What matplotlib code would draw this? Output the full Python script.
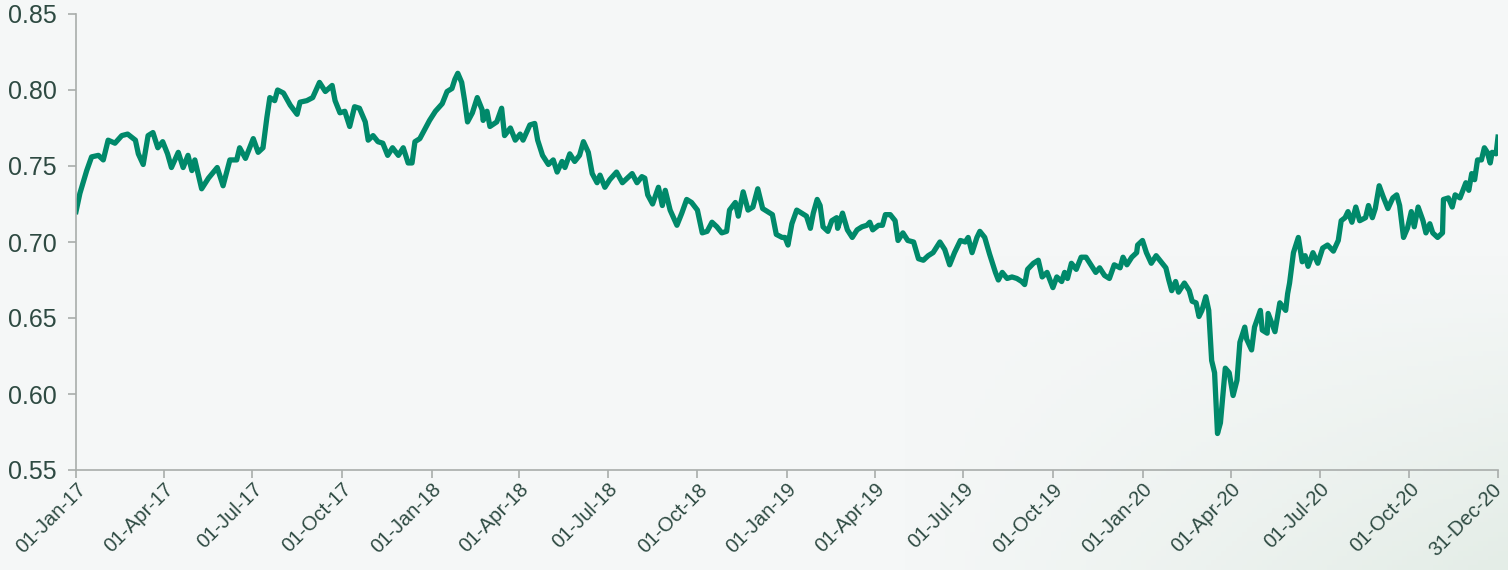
import numpy as np
import pandas as pd
import matplotlib
matplotlib.use("Agg")
import matplotlib.pyplot as plt
import matplotlib.dates as mdates
import matplotlib.transforms as mtransforms

# AUD/USD style series (days since 01-Jan-2017, rate)
start = pd.Timestamp("2017-01-01")

days = [
    0, 4, 11, 16, 23, 28, 33, 40, 47, 53, 61, 64, 69, 74, 79, 84, 89, 94, 98, 105,
    110, 115, 119, 122, 129, 136, 145, 151, 158, 165, 168, 174, 182, 187, 192, 196,
    199, 204, 207, 213, 220, 227, 230, 237, 243, 250, 256, 263, 266, 271, 276, 281,
    286, 291, 297, 300, 305, 310, 315, 320, 325, 331, 336, 341, 345, 348, 353, 358, 363,
    369, 376, 381, 386, 389, 392, 396, 399, 402, 407, 412, 417, 418, 422, 425, 432,
    437, 440, 446, 451, 456, 459, 466, 471, 474, 479, 485, 490, 494, 499, 502, 507,
    512, 517, 521, 526, 530, 535, 538, 543, 548, 555, 561, 566, 571, 576, 581, 584,
    587, 592, 598, 602, 605, 610, 617, 622, 627, 632, 638, 643, 648, 653, 658, 663,
    668, 671, 677, 680, 685, 690, 695, 700, 705, 710, 715, 719, 725,
    728, 731, 735, 740, 745, 750, 754, 757, 761, 764, 767, 772, 776, 781, 782, 787,
    792, 797, 802, 807, 812, 815, 818, 824, 828, 831, 836, 841, 844, 849, 854, 860,
    865, 870, 875, 880, 887, 892, 897, 902, 908, 913, 916, 920, 925, 928, 933, 938,
    944, 947, 951, 956, 961, 966, 971, 974, 977, 983, 988, 992, 997, 1000, 1003, 1007,
    1012, 1015, 1018, 1022, 1027, 1032, 1037, 1042, 1047, 1051, 1056, 1061, 1066,
    1072, 1075, 1079, 1084, 1089, 1090, 1095,
    1099, 1104, 1109, 1114, 1119, 1122, 1125, 1129, 1132, 1138, 1143, 1146, 1150,
    1153, 1156, 1160, 1163, 1166, 1169, 1172, 1175, 1180, 1184, 1188, 1192, 1195,
    1200, 1202, 1207, 1210, 1216, 1218, 1223, 1224, 1231, 1236, 1242, 1244, 1246,
    1250, 1255, 1259, 1262, 1265, 1270, 1275, 1280, 1285, 1291, 1296, 1299, 1303,
    1306, 1310, 1314, 1318, 1324, 1327, 1331, 1334, 1338, 1342, 1347, 1352, 1356,
    1359, 1363, 1367, 1371, 1374, 1378, 1383, 1386, 1390, 1393, 1398, 1403, 1404,
    1409, 1413, 1416, 1421, 1424, 1427, 1430, 1433, 1436, 1439, 1443, 1446, 1449,
    1452, 1454, 1458, 1460,
]

rate = [
    0.720, 0.732, 0.747, 0.756, 0.757, 0.754, 0.767, 0.765, 0.770, 0.771, 0.767, 0.758,
    0.751, 0.770, 0.772, 0.762, 0.766, 0.758, 0.749, 0.759, 0.749, 0.757, 0.747, 0.754,
    0.735, 0.742, 0.749, 0.737, 0.754, 0.754, 0.762, 0.755, 0.768, 0.759, 0.762, 0.782,
    0.795, 0.793, 0.800, 0.798, 0.790, 0.784, 0.792, 0.793, 0.795, 0.805, 0.799, 0.803,
    0.793, 0.785, 0.786, 0.776, 0.789, 0.788, 0.779, 0.767, 0.770, 0.766, 0.765, 0.757,
    0.762, 0.757, 0.762, 0.752, 0.752, 0.766, 0.768, 0.774, 0.780,
    0.786, 0.791, 0.799, 0.801, 0.807, 0.811, 0.805, 0.793, 0.779, 0.785, 0.795, 0.787,
    0.780, 0.786, 0.776, 0.779, 0.788, 0.770, 0.775, 0.767, 0.771, 0.767, 0.777, 0.778,
    0.767, 0.757, 0.751, 0.754, 0.746, 0.753, 0.749, 0.758, 0.753, 0.757, 0.766, 0.759,
    0.745, 0.739, 0.744, 0.736, 0.741, 0.746, 0.739, 0.742, 0.745, 0.739, 0.743, 0.742,
    0.731, 0.725, 0.736, 0.724, 0.734, 0.721, 0.711, 0.719, 0.728, 0.726, 0.721, 0.706,
    0.707, 0.713, 0.710, 0.706, 0.707, 0.721, 0.726, 0.717, 0.733, 0.721, 0.723, 0.735,
    0.722, 0.720, 0.718, 0.705, 0.703,
    0.703, 0.698, 0.712, 0.721, 0.719, 0.717, 0.709, 0.719, 0.728, 0.724, 0.710, 0.707,
    0.714, 0.716, 0.709, 0.719, 0.708, 0.703, 0.708, 0.710, 0.711, 0.713, 0.708, 0.711,
    0.711, 0.718, 0.718, 0.714, 0.701, 0.706, 0.701, 0.700, 0.689, 0.688, 0.691, 0.693,
    0.700, 0.695, 0.685, 0.693, 0.701, 0.700, 0.703, 0.693, 0.703, 0.707, 0.703, 0.692,
    0.680, 0.675, 0.680, 0.676, 0.677, 0.676, 0.674, 0.672, 0.682, 0.686, 0.688, 0.677,
    0.680, 0.675, 0.670, 0.677, 0.674, 0.680, 0.676, 0.686, 0.682, 0.690, 0.690, 0.685,
    0.680, 0.683, 0.678, 0.676, 0.685, 0.683, 0.690, 0.685, 0.690, 0.693, 0.698, 0.701,
    0.693, 0.686, 0.691, 0.687, 0.683, 0.675, 0.668, 0.674, 0.667, 0.673, 0.668, 0.661,
    0.660, 0.651, 0.655, 0.664, 0.655, 0.622, 0.614, 0.574, 0.581, 0.617, 0.614, 0.599,
    0.609, 0.634, 0.644, 0.636, 0.629, 0.644, 0.655, 0.642, 0.640, 0.653, 0.641, 0.660,
    0.655, 0.666, 0.673, 0.693, 0.703, 0.687, 0.691, 0.684, 0.693, 0.686, 0.696, 0.698,
    0.694, 0.701, 0.714, 0.716, 0.720, 0.713, 0.723, 0.714, 0.716, 0.724, 0.716, 0.722,
    0.737, 0.730, 0.722, 0.729, 0.731, 0.724, 0.703, 0.709, 0.720, 0.710, 0.723, 0.714,
    0.706, 0.712, 0.706, 0.703, 0.706, 0.728, 0.729, 0.723, 0.731, 0.729, 0.734, 0.739,
    0.734, 0.745, 0.741, 0.754, 0.754, 0.762, 0.759, 0.752, 0.759, 0.758, 0.769,
]

tick_dates = [
    "2017-01-01", "2017-04-01", "2017-07-01", "2017-10-01",
    "2018-01-01", "2018-04-01", "2018-07-01", "2018-10-01",
    "2019-01-01", "2019-04-01", "2019-07-01", "2019-10-01",
    "2020-01-01", "2020-04-01", "2020-07-01", "2020-10-01", "2020-12-31",
]
y_ticks = [0.55, 0.60, 0.65, 0.70, 0.75, 0.80, 0.85]

dates = start + pd.to_timedelta(days, unit="D")

plt.rcParams["font.family"] = ["Liberation Sans", "DejaVu Sans"]
text_col = "#2e4a42"
line_col = "#00896a"
bg_col = "#f5f7f7"

fig = plt.figure(figsize=(15.08, 5.70), dpi=100)
fig.patch.set_facecolor(bg_col)

# faint green wash toward the bottom right corner
bg = fig.add_axes([0, 0, 1, 1], zorder=-5)
gx, gy = np.meshgrid(np.linspace(0, 1, 300), np.linspace(0, 1, 120))
wash = np.clip((gx - 0.6) / 0.4, 0, 1) * np.clip((gy - 0.45) / 0.55, 0, 1)
rgb = np.array([245, 247, 247]) / 255.0
green = np.array([228, 237, 231]) / 255.0
img = rgb + (green - rgb) * wash[..., None]
bg.imshow(img, aspect="auto", extent=[0, 1, 0, 1], origin="upper")
bg.set_axis_off()

ax = fig.add_axes([76 / 1508, 1 - 470 / 570, 1422 / 1508, 456 / 570])
ax.set_facecolor("none")
ax.plot(dates, rate, color=line_col, linewidth=3.8, solid_joinstyle="round")

ax.set_xlim(pd.Timestamp(tick_dates[0]), pd.Timestamp(tick_dates[-1]))
ax.set_ylim(0.55, 0.85)
ax.set_yticks(y_ticks)
ax.set_yticklabels([f"{v:.2f}" for v in y_ticks])
ax.set_xticks(pd.to_datetime(tick_dates))
ax.xaxis.set_major_formatter(mdates.DateFormatter("%d-%b-%y"))

for s in ["top", "right"]:
    ax.spines[s].set_visible(False)
for s in ["left", "bottom"]:
    ax.spines[s].set_color("#a9adab")
    ax.spines[s].set_linewidth(1.2)

ax.tick_params(axis="both", colors="#a9adab", length=6, width=1.2)
ax.tick_params(axis="y", labelsize=18, labelcolor=text_col, pad=8)
ax.tick_params(axis="x", labelsize=14.5, labelcolor=text_col, pad=1)
xlabels = ax.get_xticklabels()
for lab in xlabels:
    lab.set_rotation(45)
    lab.set_ha("right")
    lab.set_rotation_mode("anchor")
# nudge the last label so it stays inside the canvas
shift = mtransforms.ScaledTranslation(-6 / 100, 0, fig.dpi_scale_trans)
xlabels[-1].set_transform(xlabels[-1].get_transform() + shift)

fig.savefig("out.png", dpi=100, facecolor=fig.get_facecolor())
